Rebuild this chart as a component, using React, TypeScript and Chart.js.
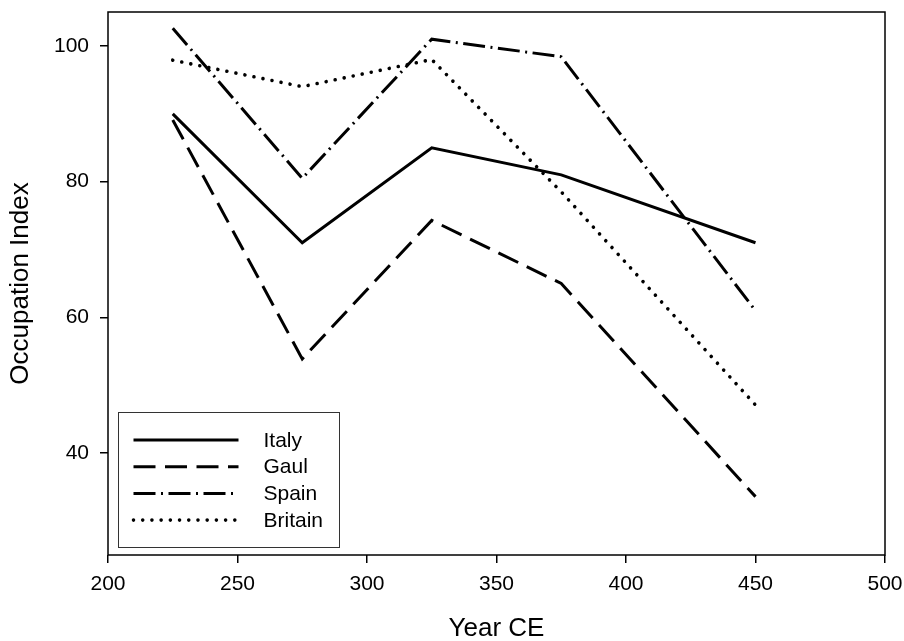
import React, { useEffect, useRef } from "react";
import { Chart, registerables } from "chart.js";

Chart.register(...registerables);

const years = [225, 275, 325, 375, 450];
const italy = [90, 71, 85, 81, 71];
const gaul = [89.1, 53.9, 74.3, 65, 33.6];
const spain = [102.6, 80.5, 101, 98.4, 61];
const britain = [97.9, 94, 98, 78.5, 47.1];
const seriesNames = ["Italy", "Gaul", "Spain", "Britain"];
const yTicks = [40, 60, 80, 100];
const xTicks = [200, 250, 300, 350, 400, 450, 500];

const FONT = "'Liberation Sans', Arial, sans-serif";

const toPts = (vals: number[]) => years.map((x, i) => ({ x, y: vals[i] }));

const frameAndLegend = {
  id: "frameAndLegend",
  afterDatasetsDraw(chart: any) {
    const { ctx, chartArea } = chart;
    const { left, right, top, bottom } = chartArea;
    ctx.save();
    ctx.strokeStyle = "#000";
    ctx.lineWidth = 1.5;
    ctx.setLineDash([]);
    ctx.strokeRect(left, top, right - left, bottom - top);

    // legend box
    const bx = left + 10.5;
    const bw = 221;
    const bh = 135;
    const by = bottom - 7.5 - bh;
    ctx.fillStyle = "#fff";
    ctx.fillRect(bx, by, bw, bh);
    ctx.lineWidth = 1;
    ctx.strokeStyle = "#333";
    ctx.strokeRect(bx, by, bw, bh);

    const ds = chart.data.datasets;
    ds.forEach((d: any, i: number) => {
      const y = by + 27.5 + i * 26.7;
      ctx.beginPath();
      ctx.strokeStyle = "#000";
      ctx.lineWidth = d.borderWidth;
      ctx.lineCap = d.borderCapStyle || "butt";
      ctx.setLineDash(d.borderDash || []);
      ctx.moveTo(bx + 15, y);
      ctx.lineTo(bx + 120, y);
      ctx.stroke();
      ctx.setLineDash([]);
      ctx.fillStyle = "#000";
      ctx.font = `21px ${FONT}`;
      ctx.textBaseline = "middle";
      ctx.textAlign = "left";
      ctx.fillText(d.label, bx + 145, y + 1);
    });
    ctx.restore();
  },
};

export default function App() {
  const ref = useRef<HTMLCanvasElement | null>(null);
  useEffect(() => {
    document.body.style.margin = "0";
    const canvas = ref.current!;
    const chart = new Chart(canvas, {
      type: "line",
      data: {
        datasets: [
          {
            label: seriesNames[0],
            data: toPts(italy),
            borderColor: "#000",
            borderWidth: 3,
            borderDash: [],
          },
          {
            label: seriesNames[1],
            data: toPts(gaul),
            borderColor: "#000",
            borderWidth: 3,
            borderDash: [22, 9.5],
          },
          {
            label: seriesNames[2],
            data: toPts(spain),
            borderColor: "#000",
            borderWidth: 3,
            borderDash: [22, 5.5, 2, 5.5],
          },
          {
            label: seriesNames[3],
            data: toPts(britain),
            borderColor: "#000",
            borderWidth: 3.6,
            borderCapStyle: "round",
            borderDash: [0.01, 9.2],
          },
        ] as any,
      },
      options: {
        responsive: false,
        animation: false,
        events: [],
        layout: { padding: { left: 0, right: 19, top: 12, bottom: 0 } },
        elements: { point: { radius: 0 }, line: { tension: 0, fill: false } },
        plugins: { legend: { display: false }, tooltip: { enabled: false } },
        scales: {
          x: {
            type: "linear",
            min: 200,
            max: 500,
            afterBuildTicks: (axis: any) => {
              axis.ticks = xTicks.map((v) => ({ value: v }));
            },
            afterFit: (axis: any) => {
              axis.height = 86;
              axis.paddingLeft = 0;
              axis.paddingRight = 0;
            },
            border: { display: false },
            grid: {
              drawOnChartArea: false,
              drawTicks: true,
              tickLength: 8,
              color: "#000",
              lineWidth: 1.5,
            },
            ticks: {
              color: "#000",
              font: { family: FONT, size: 21 },
              padding: 9,
              maxRotation: 0,
            },
            title: {
              display: true,
              text: "Year CE",
              color: "#000",
              font: { family: FONT, size: 26 },
              padding: { top: 0, bottom: -3.5 },
            },
          },
          y: {
            type: "linear",
            min: 25,
            max: 105,
            afterBuildTicks: (axis: any) => {
              axis.ticks = yTicks.map((v) => ({ value: v }));
            },
            afterFit: (axis: any) => {
              axis.width = 108;
              axis.paddingTop = 0;
              axis.paddingBottom = 0;
            },
            border: { display: false },
            grid: {
              drawOnChartArea: false,
              drawTicks: true,
              tickLength: 8,
              color: "#000",
              lineWidth: 1.5,
            },
            ticks: {
              color: "#000",
              font: { family: FONT, size: 21 },
              padding: 11,
            },
            title: {
              display: true,
              text: "Occupation Index",
              color: "#000",
              font: { family: FONT, size: 26 },
              padding: { top: 5.5, bottom: 0 },
            },
          },
        },
      },
      plugins: [frameAndLegend],
    } as any);
    return () => chart.destroy();
  }, []);
  return (
    <div style={{ position: "absolute", left: 0, top: 0, width: 904, height: 641, background: "#fff" }}>
      <canvas ref={ref} width={904} height={641} style={{ display: "block" }} />
    </div>
  );
}
